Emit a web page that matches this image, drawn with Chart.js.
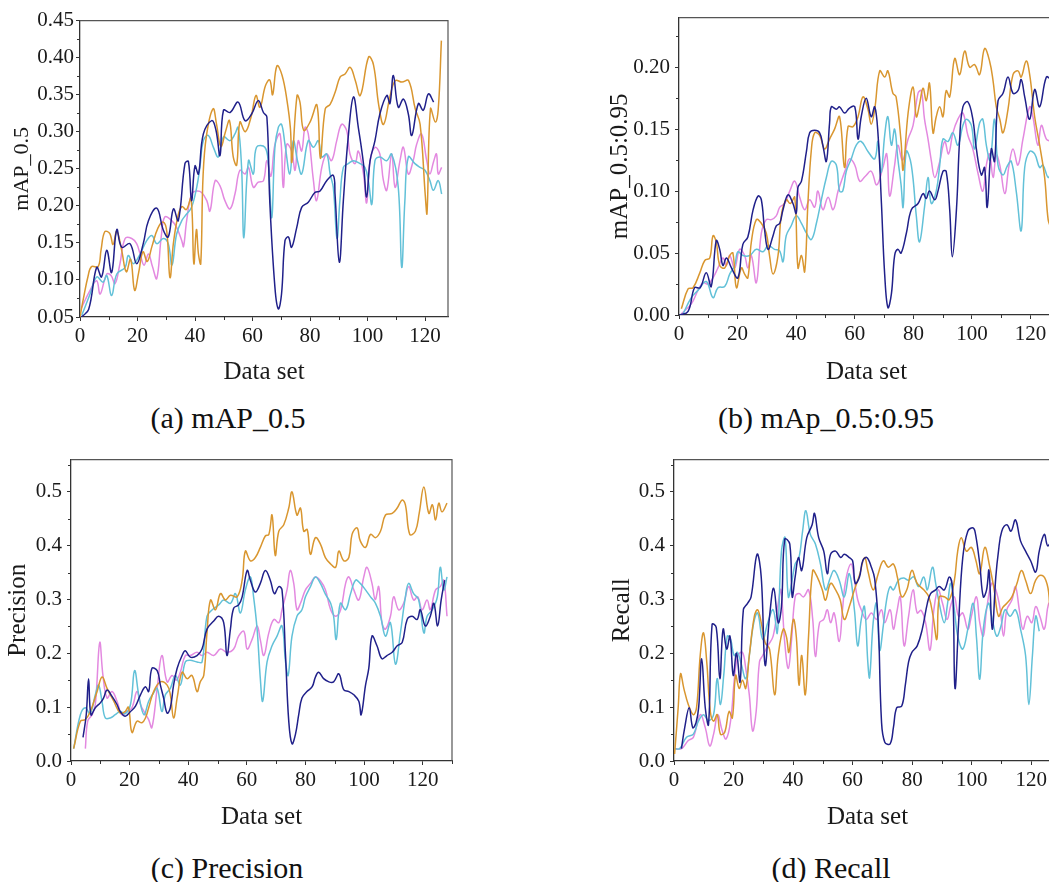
<!DOCTYPE html>
<html>
<head>
<meta charset="utf-8">
<script src="https://cdn.jsdelivr.net/npm/chart.js@4.4.0/dist/chart.umd.min.js"></script>
<style>
  html, body { margin: 0; padding: 0; background: #fff; overflow: hidden; width: 1049px; height: 882px; }
  .panel { position: absolute; }
  .caption {
    position: absolute; transform: translate(-50%, -50%); white-space: nowrap;
    font-family: "Liberation Serif", "Times New Roman", serif; font-size: 30px; color: #111;
  }
</style>
</head>
<body>
<div class="caption" style="left:228px;top:418px">(a) mAP_0.5</div>
<div class="caption" style="left:826px;top:418px">(b) mAp_0.5:0.95</div>
<div class="caption" style="left:227px;top:868px">(c) Precision</div>
<div class="caption" style="left:831px;top:868px">(d) Recall</div>
<script>
(function () {
  "use strict";

  // ---- (a) mAP_0.5 : [data set, value] ----
  const aNavy = [[0.5,0.05],[3,0.06],[5.8,0.117],[7.5,0.104],[9.3,0.14],[11,0.11],[12.8,0.168],[14.5,0.144],[17.4,0.149],[19.7,0.122],[22,0.149],[23.8,0.18],[26.7,0.197],[29,0.167],[30.7,0.158],[32.5,0.196],[34.2,0.18],[36.5,0.257],[37.7,0.26],[38.8,0.207],[40,0.254],[41.2,0.243],[42.9,0.297],[45.8,0.315],[47.3,0.302],[48.7,0.268],[49.9,0.329],[52.2,0.326],[55,0.34],[57.4,0.315],[59.7,0.324],[62,0.342],[63.8,0.326],[65,0.32],[66,0.207],[67.8,0.09],[69,0.061],[70.1,0.081],[71.3,0.153],[72.5,0.158],[73.6,0.144],[75.4,0.171],[77.1,0.198],[79.4,0.205],[81.7,0.218],[83.5,0.22],[85.8,0.234],[88.1,0.241],[88.7,0.216],[90.2,0.124],[91.6,0.207],[93.3,0.293],[95.1,0.347],[96.8,0.306],[98.6,0.257],[99.7,0.212],[100.9,0.261],[102.6,0.288],[104.3,0.324],[106.7,0.349],[107.8,0.338],[109,0.376],[110.7,0.333],[112.5,0.344],[114.2,0.324],[115.4,0.295],[117.7,0.338],[119.4,0.329],[121.2,0.351],[123,0.34]];
  const aOrange = [[0,0.05],[1.2,0.075],[2.8,0.105],[4,0.118],[6.3,0.118],[7.3,0.14],[8.6,0.165],[10.3,0.163],[11.5,0.148],[12.8,0.166],[14.5,0.14],[16.1,0.111],[17.6,0.128],[19,0.086],[20.4,0.11],[21.9,0.138],[23.4,0.125],[25,0.145],[27.1,0.17],[29,0.178],[30.2,0.165],[31.3,0.103],[32.5,0.15],[34,0.185],[35.4,0.199],[37,0.195],[38.6,0.21],[39.6,0.122],[40.5,0.168],[41.2,0.135],[42,0.122],[42.8,0.24],[44,0.295],[46.3,0.331],[47.5,0.31],[49,0.28],[50.6,0.3],[52,0.315],[53.3,0.266],[54.5,0.255],[55.6,0.313],[57.5,0.3],[59.5,0.32],[61.2,0.349],[62.6,0.333],[64.5,0.362],[66,0.37],[67,0.35],[68.5,0.389],[70.3,0.376],[72,0.342],[73.2,0.304],[73.7,0.259],[75.5,0.349],[76.5,0.34],[77.8,0.302],[80,0.313],[82.4,0.336],[83.6,0.264],[85.3,0.331],[87,0.337],[88.8,0.354],[90.5,0.374],[92.2,0.378],[94,0.387],[95.7,0.37],[97.5,0.349],[100.4,0.401],[102.1,0.39],[103.9,0.336],[105.6,0.31],[107.9,0.349],[109.7,0.369],[112,0.367],[114.3,0.369],[116.6,0.331],[118.3,0.31],[120.1,0.214],[120.7,0.19],[121.9,0.331],[123.6,0.313],[124.6,0.33],[125.7,0.423]];
  const aCyan = [[0.6,0.052],[3.5,0.081],[5.8,0.104],[8,0.097],[9.3,0.106],[11,0.079],[12.8,0.108],[15.7,0.117],[16.8,0.133],[18.6,0.122],[20.9,0.135],[23.2,0.153],[25,0.16],[26.7,0.149],[29,0.156],[30.7,0.149],[32,0.12],[33.6,0.162],[35.4,0.18],[37.1,0.189],[38.8,0.198],[40.6,0.225],[41.7,0.252],[42.9,0.288],[44.6,0.295],[46.4,0.279],[48.1,0.266],[49.9,0.293],[52.2,0.288],[53.9,0.297],[55,0.306],[56.2,0.252],[57,0.157],[58.6,0.261],[60.3,0.243],[61.4,0.279],[64.3,0.279],[65.5,0.257],[66.7,0.184],[67.8,0.279],[69,0.306],[70.1,0.31],[71.3,0.283],[73,0.243],[74.2,0.288],[75.7,0.26],[77.1,0.243],[79.4,0.288],[81.2,0.279],[82.9,0.288],[84.1,0.266],[85.8,0.27],[87,0.243],[88.1,0.225],[89.4,0.156],[90.4,0.207],[91.6,0.252],[93.3,0.257],[95.1,0.261],[97.4,0.257],[99.1,0.252],[100.3,0.234],[101.5,0.202],[102.6,0.261],[104.3,0.266],[106.7,0.261],[108.4,0.27],[110.7,0.225],[111.9,0.117],[113,0.207],[114.2,0.266],[116.5,0.257],[118.3,0.252],[120,0.248],[121.7,0.234],[122.9,0.221],[124.6,0.234],[125.8,0.216]];
  const aViolet = [[0.6,0.063],[3.5,0.086],[5.8,0.099],[7,0.081],[9.3,0.108],[10.8,0.106],[12.2,0.095],[13.9,0.122],[15.7,0.156],[18,0.156],[19.7,0.149],[20.9,0.135],[22.3,0.12],[23.8,0.135],[25.2,0.118],[26.7,0.102],[28.3,0.16],[29.5,0.185],[31.9,0.18],[33.6,0.171],[35.4,0.153],[36,0.145],[37.1,0.18],[38.8,0.216],[40.6,0.22],[42.3,0.218],[44.1,0.207],[45.2,0.193],[47,0.234],[48.7,0.227],[50.4,0.207],[52.2,0.196],[53.9,0.216],[55.6,0.248],[57.4,0.243],[58.6,0.252],[60.3,0.225],[62,0.232],[63.8,0.234],[65,0.261],[66.4,0.24],[67.8,0.283],[69.6,0.297],[70.7,0.225],[71.9,0.283],[73.6,0.274],[74.8,0.248],[75.9,0.288],[77.1,0.274],[78.3,0.306],[79.4,0.297],[81.2,0.234],[82.3,0.207],[84.1,0.252],[85.8,0.27],[87.5,0.261],[89.3,0.288],[91,0.31],[92.8,0.301],[93.9,0.27],[95.7,0.257],[96.8,0.274],[98.6,0.243],[99.7,0.204],[100.9,0.261],[102.6,0.279],[104.3,0.27],[105.5,0.235],[106.7,0.221],[108.4,0.27],[109.6,0.225],[111.3,0.261],[112.5,0.279],[114.2,0.243],[115.9,0.261],[117.1,0.283],[118.8,0.297],[120.6,0.261],[121.7,0.243],[123,0.26],[124,0.27],[124.6,0.243],[125.8,0.252]];

  // ---- (b) mAP_0.5:0.95 ----
  const bNavy = [[0.2,0],[3.1,0.003],[5.3,0.022],[7.2,0.022],[9.3,0.034],[11,0.023],[12.7,0.06],[13.9,0.053],[15,0.04],[16.2,0.046],[17.9,0.038],[20.1,0.03],[21.8,0.057],[23.5,0.063],[25.3,0.085],[27,0.096],[28.1,0.093],[29.2,0.069],[30.4,0.053],[32.1,0.064],[33.2,0.072],[34.4,0.074],[35.5,0.085],[37.2,0.097],[38.9,0.09],[40,0.082],[40.6,0.103],[41.8,0.108],[43.5,0.132],[44.6,0.147],[46.3,0.149],[48,0.147],[49.1,0.137],[50.3,0.124],[51.4,0.155],[52,0.168],[53.7,0.166],[54.8,0.168],[56.5,0.163],[58.2,0.167],[60,0.168],[61.1,0.142],[62.2,0.16],[63.9,0.175],[65.6,0.16],[66.8,0.168],[67.9,0.147],[69.1,0.09],[70.2,0.033],[71.3,0.006],[72.5,0.017],[73.6,0.048],[74.7,0.053],[75.8,0.05],[77.6,0.066],[79.3,0.085],[81.6,0.09],[83.3,0.098],[84.4,0.094],[85.5,0.1],[87.3,0.093],[88.4,0.1],[90.1,0.116],[91.2,0.116],[92.4,0.085],[93.3,0.047],[94.7,0.085],[95.8,0.142],[96.9,0.168],[98.6,0.172],[100.3,0.158],[101.5,0.134],[103.2,0.113],[104.3,0.119],[105.2,0.087],[106.6,0.134],[107.7,0.124],[108.9,0.173],[110.6,0.179],[112.3,0.192],[114,0.179],[115.7,0.181],[116.8,0.19],[118,0.176],[119.7,0.158],[121.4,0.182],[123.1,0.168],[125.4,0.192],[127,0.19]];
  const bOrange = [[0.8,0.005],[3.1,0.021],[4.8,0.022],[7.1,0.034],[8.8,0.044],[10.5,0.046],[11.6,0.064],[12.7,0.059],[13.9,0.04],[15.6,0.038],[17.3,0.048],[18.4,0.05],[19.6,0.022],[21.3,0.038],[22.4,0.033],[23.5,0.03],[24.7,0.059],[26.4,0.077],[28.1,0.074],[29.8,0.066],[30.9,0.048],[32.1,0.033],[33.8,0.048],[34.9,0.08],[36.6,0.093],[38,0.09],[39.5,0.095],[40.6,0.038],[41.8,0.048],[42.9,0.035],[44,0.09],[45.2,0.134],[46.3,0.147],[48,0.145],[49.7,0.134],[51.4,0.142],[53.1,0.15],[54.8,0.16],[56.5,0.119],[57.7,0.152],[59.4,0.152],[61.1,0.16],[62.8,0.176],[64.5,0.166],[65.6,0.154],[66.8,0.166],[68.5,0.197],[70.2,0.192],[71.3,0.197],[73,0.179],[74.1,0.176],[75.8,0.14],[76.5,0.117],[78.2,0.163],[79.9,0.184],[81,0.16],[82.1,0.17],[83.3,0.183],[84.4,0.173],[85.5,0.187],[86.7,0.147],[87.8,0.16],[89,0.168],[90.1,0.16],[91.2,0.181],[92.4,0.176],[94.1,0.207],[95.8,0.194],[97.5,0.213],[99.2,0.2],[100.9,0.202],[102.6,0.194],[104.3,0.215],[106,0.205],[107.2,0.189],[108.3,0.168],[109.5,0.158],[110.6,0.147],[112.3,0.166],[114,0.194],[115.7,0.197],[116.8,0.192],[118.5,0.205],[119.7,0.194],[121.4,0.16],[123.1,0.137],[124.8,0.111],[126,0.077],[127,0.07]];
  const bCyan = [[1.4,0.001],[4.2,0.014],[6.5,0.02],[9.3,0.027],[11.6,0.014],[13.3,0.022],[15.6,0.023],[17.3,0.033],[19,0.04],[20.1,0.051],[21.8,0.048],[24.1,0.048],[26.4,0.053],[28.7,0.051],[30.4,0.056],[32.6,0.053],[34.3,0.052],[35.5,0.043],[36.6,0.064],[38.3,0.072],[40,0.08],[41.8,0.074],[43.5,0.066],[45.2,0.061],[46.9,0.074],[48.6,0.093],[50.3,0.111],[52,0.124],[53.7,0.121],[54.8,0.1],[55.9,0.1],[57.1,0.116],[58.8,0.126],[60.5,0.137],[62.2,0.14],[64.5,0.132],[66.8,0.126],[67.9,0.14],[69,0.115],[70.2,0.145],[71.3,0.16],[72.5,0.137],[73.6,0.15],[74.7,0.126],[75.8,0.105],[76.5,0.087],[77.6,0.132],[79.3,0.121],[81,0.08],[82.1,0.059],[83.8,0.087],[85,0.111],[86.1,0.09],[87.8,0.1],[89,0.121],[90.1,0.142],[91.8,0.14],[93.5,0.147],[95.2,0.137],[96.9,0.153],[98.1,0.158],[99.8,0.153],[100.9,0.134],[102.6,0.155],[103.7,0.158],[104.9,0.137],[106.2,0.125],[107.7,0.158],[108.9,0.121],[110.6,0.113],[112,0.12],[113.4,0.124],[115.1,0.1],[116.8,0.068],[118,0.119],[119.7,0.132],[121.4,0.13],[123.1,0.119],[124.2,0.121],[126,0.111],[127,0.115]];
  const bViolet = [[0.8,0.001],[4.2,0.009],[6.5,0.02],[8.2,0.026],[9.9,0.025],[11.6,0.03],[13.3,0.038],[15,0.046],[16.2,0.04],[17.3,0.048],[19,0.038],[20.7,0.053],[22.4,0.048],[23.5,0.038],[24.7,0.048],[26.4,0.026],[28.1,0.066],[29.8,0.077],[31.5,0.077],[33.2,0.08],[34.4,0.087],[36.1,0.09],[37.8,0.1],[39.5,0.108],[41.2,0.095],[42.9,0.085],[44.6,0.093],[46.3,0.087],[47.4,0.1],[49.1,0.085],[50.9,0.095],[52.6,0.085],[54.3,0.1],[55.7,0.11],[57.1,0.119],[58.2,0.126],[60,0.121],[61.7,0.108],[63.6,0.112],[65.6,0.116],[67.5,0.105],[69.6,0.119],[70.9,0.13],[71.9,0.096],[73.6,0.121],[74.7,0.137],[76.3,0.125],[78.2,0.142],[79.9,0.153],[81.6,0.179],[82.7,0.181],[83.8,0.158],[85,0.142],[86.1,0.125],[87.3,0.111],[89,0.124],[90.7,0.14],[92,0.13],[93.5,0.147],[95.2,0.158],[96.9,0.163],[98.6,0.145],[100.3,0.134],[102,0.115],[103.7,0.1],[104.9,0.121],[106,0.13],[107.2,0.111],[108.3,0.129],[109.5,0.121],[111.2,0.098],[112.6,0.12],[114,0.134],[115.7,0.121],[117.4,0.142],[119.7,0.168],[120.8,0.16],[122.5,0.137],[123.7,0.153],[125.4,0.142],[127,0.14]];

  // ---- (c) Precision ----
  const cNavy = [[4.1,0.044],[5.2,0.086],[6,0.153],[6.8,0.086],[8.3,0.099],[10,0.108],[11.1,0.117],[12.3,0.132],[14,0.12],[15.7,0.105],[16.8,0.092],[18.5,0.083],[20.3,0.092],[22,0.102],[23.7,0.123],[25.4,0.138],[26.5,0.129],[27.6,0.172],[29.4,0.168],[30.5,0.141],[31.6,0.117],[32.8,0.089],[33.9,0.099],[35,0.141],[36.2,0.172],[37.9,0.196],[39,0.205],[40.7,0.193],[43,0.196],[44.7,0.208],[46.4,0.245],[48.7,0.26],[50.4,0.269],[52.1,0.257],[53.2,0.196],[54.4,0.245],[55.5,0.284],[57.2,0.29],[58.4,0.305],[60.1,0.354],[61.2,0.336],[62.9,0.314],[64.6,0.33],[66.3,0.354],[68,0.336],[69.4,0.311],[70.9,0.324],[72,0.318],[73.2,0.196],[74.3,0.074],[75.4,0.032],[76.6,0.05],[77.7,0.086],[78.8,0.117],[80.5,0.129],[82.3,0.138],[83.4,0.156],[84.5,0.165],[86.2,0.153],[88,0.147],[89.6,0.147],[91.4,0.162],[93.1,0.132],[94.8,0.129],[96.5,0.123],[98.2,0.111],[99,0.086],[100.5,0.141],[101.6,0.172],[102.7,0.232],[104.4,0.214],[106.1,0.19],[107.8,0.196],[109.6,0.202],[111.3,0.214],[113,0.22],[114.7,0.263],[116.4,0.269],[118.1,0.263],[119.2,0.281],[120.9,0.251],[122.6,0.269],[123.8,0.293],[125.1,0.251],[126.3,0.299],[127.5,0.336]];
  const cOrange = [[0.9,0.023],[3.2,0.074],[4.9,0.077],[6.6,0.092],[8.9,0.129],[10.6,0.156],[12.3,0.135],[14.6,0.111],[16.8,0.089],[18.5,0.092],[19.6,0.1],[20.8,0.053],[22.5,0.074],[24.2,0.071],[25.4,0.08],[26.5,0.099],[28.2,0.129],[30.5,0.147],[32.8,0.141],[33.9,0.123],[35,0.08],[36.3,0.12],[37.9,0.165],[39.6,0.153],[41.3,0.159],[43,0.129],[44.1,0.147],[45.3,0.159],[46.4,0.238],[47.6,0.299],[49.3,0.281],[51,0.311],[52.7,0.299],[54.4,0.308],[56.7,0.305],[58.4,0.336],[59.5,0.39],[61.2,0.372],[62.9,0.378],[64.6,0.397],[66.3,0.418],[67.5,0.421],[68.6,0.457],[69.7,0.382],[70.9,0.427],[72.6,0.439],[74.3,0.47],[75.4,0.5],[77.1,0.457],[78.3,0.47],[79.4,0.427],[80.6,0.43],[81.7,0.384],[83.4,0.415],[85.1,0.403],[86.8,0.378],[88.6,0.366],[90.3,0.36],[91.4,0.39],[93.1,0.372],[94.8,0.378],[95.9,0.421],[97.6,0.433],[98.7,0.409],[100.5,0.397],[102.2,0.421],[103.9,0.415],[105.6,0.427],[107.3,0.457],[109.6,0.46],[111.3,0.47],[113,0.485],[114.1,0.476],[115.6,0.421],[117.5,0.427],[118.8,0.46],[120.4,0.509],[122.1,0.46],[123.3,0.476],[124.4,0.448],[125.5,0.479],[126.6,0.463],[128.3,0.479]];
  const cCyan = [[0.9,0.023],[3.2,0.086],[4.9,0.099],[6.5,0.088],[8.3,0.123],[9.4,0.141],[10.6,0.11],[11.7,0.08],[13.4,0.08],[15.1,0.086],[16.8,0.092],[18.5,0.088],[20.3,0.105],[21.7,0.168],[23.2,0.12],[24.9,0.086],[26.5,0.111],[28,0.125],[29.4,0.135],[31,0.092],[32.2,0.123],[33.9,0.135],[35.6,0.159],[37.3,0.141],[39,0.184],[40.7,0.187],[43,0.184],[44.7,0.184],[46.4,0.269],[48.2,0.281],[50.4,0.29],[52.1,0.299],[54.4,0.293],[56.1,0.311],[57.8,0.275],[59.5,0.318],[61.2,0.342],[62.3,0.305],[63.5,0.245],[64.6,0.153],[65.4,0.111],[66.9,0.184],[68.6,0.214],[70.3,0.232],[72,0.251],[73.2,0.184],[74.1,0.159],[75.4,0.232],[77.1,0.269],[78.8,0.281],[80,0.305],[81.7,0.324],[83.4,0.342],[85.1,0.33],[86.8,0.31],[88.6,0.293],[89.6,0.269],[90.5,0.226],[91.9,0.293],[93.7,0.281],[95.4,0.311],[97.1,0.336],[98.7,0.33],[100.5,0.318],[102.2,0.305],[103.9,0.293],[105.6,0.269],[107.3,0.232],[109,0.257],[110.7,0.18],[112.4,0.238],[114.1,0.305],[115.2,0.33],[116.9,0.311],[118.6,0.3],[120.4,0.238],[121.5,0.269],[123.3,0.281],[125,0.305],[126,0.36],[127.2,0.318],[128.3,0.342]];
  const cViolet = [[4.9,0.023],[5.7,0.074],[7.2,0.086],[8.3,0.105],[9.8,0.22],[10.9,0.159],[12.3,0.117],[14,0.129],[15.7,0.111],[17.4,0.086],[19.1,0.092],[20.8,0.099],[22.5,0.129],[23.7,0.105],[24.9,0.092],[26.5,0.077],[27.6,0.062],[29.4,0.135],[31,0.196],[32.8,0.147],[34.5,0.159],[35.9,0.15],[37.3,0.165],[39,0.196],[40.7,0.196],[43,0.202],[44.7,0.196],[46.4,0.202],[48.7,0.196],[51,0.208],[53.2,0.202],[55.5,0.208],[57.2,0.232],[59,0.241],[60.1,0.208],[61.8,0.226],[63.5,0.251],[64.6,0.225],[65.8,0.196],[67.5,0.238],[69.2,0.263],[70.9,0.257],[72,0.281],[73.7,0.318],[74.8,0.354],[76,0.33],[77.1,0.281],[78.3,0.293],[80,0.318],[81.7,0.33],[83.4,0.342],[85.1,0.335],[86.8,0.318],[88.6,0.281],[90.3,0.269],[92,0.281],[93.7,0.33],[94.8,0.342],[96.5,0.318],[98.2,0.299],[99.9,0.342],[101,0.36],[102.7,0.33],[103.8,0.3],[105,0.324],[106.1,0.257],[107.3,0.245],[109,0.269],[110.1,0.305],[111.8,0.281],[113.5,0.293],[115.2,0.324],[116.9,0.299],[118.3,0.305],[119.8,0.281],[121.5,0.299],[122.6,0.281],[124.4,0.318],[126,0.324],[127.2,0.336],[128.3,0.269]];

  // ---- (d) Recall ----
  const dNavy = [[2.5,0.023],[3.6,0.062],[5.1,0.099],[6.3,0.062],[7.4,0.071],[8.3,0.1],[9.3,0.19],[10.5,0.099],[11.6,0.068],[12.8,0.254],[14.2,0.248],[15.4,0.153],[16.5,0.245],[17.7,0.208],[18.8,0.232],[19.9,0.159],[21,0.2],[22.2,0.147],[23.3,0.281],[24.7,0.293],[25.9,0.305],[27.9,0.384],[29.3,0.342],[30.6,0.178],[32.1,0.269],[33.5,0.321],[35,0.257],[36.1,0.287],[37.2,0.412],[38.9,0.403],[39.7,0.305],[40.7,0.342],[41.8,0.378],[42.9,0.354],[44.6,0.415],[46.4,0.439],[47.2,0.46],[48.6,0.415],[50.3,0.39],[51.5,0.348],[52.6,0.384],[54.3,0.39],[56,0.378],[57.2,0.384],[58.9,0.378],[60,0.372],[60.9,0.33],[62.3,0.342],[63.4,0.372],[64.8,0.378],[66.3,0.36],[67.4,0.339],[68.6,0.257],[69.7,0.074],[70.8,0.035],[72.6,0.032],[73.7,0.062],[74.8,0.099],[76.5,0.102],[77.7,0.141],[78.8,0.184],[79.9,0.202],[81.7,0.214],[83.4,0.245],[85.1,0.293],[86.2,0.311],[87.9,0.318],[89.1,0.324],[90.8,0.318],[92.5,0.342],[93.6,0.318],[94.4,0.135],[95.6,0.257],[97,0.378],[98.7,0.427],[100.5,0.433],[101.3,0.421],[102.7,0.366],[103.9,0.305],[105,0.318],[105.8,0.354],[106.9,0.245],[108.1,0.342],[109,0.39],[110.1,0.427],[111.8,0.439],[113.2,0.427],[114.7,0.448],[116.4,0.409],[118.1,0.39],[119.8,0.372],[121.5,0.351],[122.7,0.39],[124.4,0.421],[125.5,0.4],[126.7,0.409],[127.8,0.43]];
  const dOrange = [[0.2,0.013],[1.4,0.099],[2.2,0.162],[3.3,0.135],[4.8,0.105],[6.5,0.086],[7.6,0.1],[8.8,0.196],[9.9,0.238],[11,0.184],[12.2,0.092],[13.3,0.074],[14.5,0.086],[15.6,0.05],[17,0.053],[18.5,0.092],[19.6,0.08],[20.7,0.159],[21.9,0.135],[23,0.15],[24.1,0.135],[25.3,0.196],[27,0.269],[28.1,0.281],[29.3,0.257],[30.6,0.22],[32.1,0.208],[33.8,0.123],[35,0.196],[36.7,0.245],[37.8,0.23],[38.6,0.202],[40.1,0.263],[41.1,0.23],[42,0.141],[42.9,0.196],[44.1,0.123],[45.2,0.232],[46.6,0.354],[48.1,0.342],[49.8,0.318],[50.9,0.299],[52.6,0.33],[54.3,0.318],[55.8,0.3],[57.2,0.263],[58.9,0.287],[60.6,0.318],[62.3,0.345],[64,0.378],[65.1,0.354],[66.9,0.318],[68.6,0.348],[70.3,0.372],[72,0.36],[73.7,0.366],[75.1,0.34],[76.5,0.305],[78.2,0.318],[79.9,0.354],[81.7,0.33],[83.9,0.318],[85.6,0.305],[87,0.27],[88.3,0.226],[89.1,0.305],[90.8,0.305],[92.5,0.3],[94.2,0.336],[95.3,0.39],[96.5,0.415],[98.2,0.39],[99.9,0.397],[101.3,0.375],[102.7,0.348],[104.4,0.397],[106.1,0.36],[107.5,0.32],[109,0.269],[110.4,0.285],[111.8,0.293],[113.5,0.305],[115.2,0.33],[116.7,0.354],[118.1,0.336],[119.8,0.311],[121.5,0.336],[123.2,0.345],[124.9,0.336],[126,0.305],[127.2,0.147],[128,0.15]];
  const dCyan = [[0.2,0.023],[1.9,0.023],[4.2,0.044],[6.5,0.05],[8.2,0.074],[9.9,0.086],[11.6,0.075],[13.3,0.086],[14.5,0.153],[15.6,0.105],[16.7,0.159],[17.9,0.232],[19,0.226],[20.2,0.196],[21.3,0.202],[22.4,0.184],[24.1,0.153],[25.3,0.196],[26.8,0.257],[28.1,0.275],[29.8,0.226],[31.5,0.257],[33.3,0.281],[34.7,0.238],[36.1,0.39],[37.3,0.415],[38.4,0.305],[39.5,0.33],[40.7,0.366],[42,0.378],[43.2,0.427],[44.3,0.465],[45.8,0.421],[47.5,0.403],[49.2,0.366],[50.9,0.318],[52.6,0.342],[53.8,0.354],[55.5,0.336],[57.2,0.305],[58.9,0.348],[60.6,0.281],[61.7,0.214],[62.9,0.263],[64,0.287],[65.1,0.184],[65.7,0.155],[66.9,0.257],[68,0.293],[69.1,0.206],[70.3,0.251],[71.4,0.299],[72.6,0.324],[73.7,0.318],[75.4,0.336],[77.1,0.34],[78.8,0.336],[80.5,0.342],[82.2,0.324],[83.9,0.342],[85.1,0.318],[86.8,0.36],[87.9,0.33],[89.1,0.293],[90.8,0.257],[91.9,0.293],[93,0.33],[94.2,0.281],[95.3,0.232],[97,0.208],[98.7,0.245],[100.5,0.293],[101.6,0.23],[102.7,0.152],[103.9,0.245],[105.6,0.293],[106.7,0.269],[108.4,0.232],[109.8,0.25],[111.2,0.281],[112.9,0.269],[114.7,0.281],[116.4,0.245],[118.1,0.196],[119.2,0.105],[120.4,0.196],[121.5,0.269],[122.7,0.241]];
  const dViolet = [[0.2,0.023],[2.5,0.023],[4.8,0.038],[6.5,0.044],[8.8,0.086],[10.5,0.062],[12,0.028],[13.3,0.05],[14.7,0.086],[16.2,0.056],[17.5,0.041],[19,0.074],[20.4,0.159],[21.5,0.196],[23,0.202],[24.1,0.172],[25.3,0.123],[26.4,0.056],[27.6,0.092],[28.7,0.184],[29.8,0.196],[31.5,0.214],[33.3,0.232],[35,0.293],[35.9,0.318],[37.2,0.22],[38.4,0.172],[39.5,0.226],[40.7,0.305],[42,0.311],[43.5,0.305],[45.2,0.318],[46.6,0.263],[47.5,0.194],[48.9,0.257],[50.3,0.263],[51.5,0.281],[52.6,0.257],[53.8,0.275],[55.5,0.222],[56.6,0.281],[57.7,0.336],[59.5,0.366],[60.6,0.336],[61.7,0.3],[62.9,0.281],[64.6,0.263],[66.3,0.275],[68,0.263],[69.7,0.281],[70.8,0.257],[72.6,0.281],[73.7,0.245],[74.8,0.275],[76,0.305],[77.3,0.214],[78.8,0.269],[80.3,0.318],[81.7,0.275],[83,0.28],[84.5,0.257],[86,0.206],[87.3,0.281],[88.7,0.318],[90.2,0.293],[91.7,0.263],[93,0.29],[94.2,0.305],[95.6,0.269],[97,0.275],[98.7,0.245],[99.9,0.269],[101.6,0.305],[102.7,0.257],[103.9,0.232],[105,0.281],[106.7,0.33],[108.1,0.318],[109.6,0.281],[110.7,0.232],[111.8,0.281],[113.5,0.299],[114.7,0.324],[116,0.281],[117.2,0.245],[118.7,0.269],[120.2,0.257],[121.5,0.287],[122.9,0.269],[124.4,0.245],[125.9,0.293],[127.2,0.287]];

  const COLORS = { navy: "#20208a", orange: "#d9962f", cyan: "#62c1d8", violet: "#e389e0" };
  const FONT = '"Liberation Serif", "Times New Roman", serif';
  const INK = "#1a1a1a";

  Chart.defaults.font.family = FONT;
  Chart.defaults.color = INK;

  const toPts = arr => arr.map(([x, y]) => ({ x, y }));

  // top + right edges of the box
  const framePlugin = {
    id: "frame",
    afterDraw(chart, args, opts) {
      const { ctx, chartArea: a } = chart;
      ctx.save();
      ctx.strokeStyle = opts.color || "#666";
      ctx.lineWidth = 1.2;
      ctx.beginPath();
      ctx.moveTo(a.left, a.top);
      ctx.lineTo(a.right, a.top);
      ctx.lineTo(a.right, a.bottom);
      ctx.stroke();
      ctx.restore();
    }
  };

  // small ticks between the labelled ones
  const minorPlugin = {
    id: "minorTicks",
    afterDraw(chart, args, opts) {
      const { ctx } = chart;
      ctx.save();
      ctx.strokeStyle = "#333";
      ctx.lineWidth = 1;
      ctx.beginPath();
      ["x", "y"].forEach(id => {
        const s = chart.scales[id];
        const step = opts[id], major = opts[id + "Major"];
        for (let i = 0; ; i++) {
          const v = Math.round((s.min + i * step) * 1e6) / 1e6;
          if (v > s.max + 1e-9) break;
          const r = v / major;
          if (Math.abs(r - Math.round(r)) < 1e-6) continue;
          const p = Math.round(s.getPixelForValue(v)) + 0.5;
          if (id === "x") { ctx.moveTo(p, s.top); ctx.lineTo(p, s.top + 3); }
          else { ctx.moveTo(s.right, p); ctx.lineTo(s.right - 3, p); }
        }
      });
      ctx.stroke();
      ctx.restore();
    }
  };

  function makePanel(p) {
    const plotW = p.plot.r - p.plot.l, plotH = p.plot.b - p.plot.t;
    const w = Math.round(p.yAxisW + plotW + p.padRight);
    const h = Math.round(p.padTop + plotH + p.xAxisH);
    const box = document.createElement("div");
    box.className = "panel";
    box.style.left = (p.plot.l - p.yAxisW) + "px";
    box.style.top = (p.plot.t - p.padTop) + "px";
    box.style.width = w + "px";
    box.style.height = h + "px";
    const cv = document.createElement("canvas");
    cv.width = w; cv.height = h;
    box.appendChild(cv);
    document.body.appendChild(box);

    const line = (data, color) => ({
      data: toPts(data), borderColor: color, borderWidth: 1.5,
      pointRadius: 0, tension: 0.4, fill: false
    });

    return new Chart(cv, {
      type: "line",
      data: {
        datasets: [
          line(p.series.navy, COLORS.navy),
          line(p.series.orange, COLORS.orange),
          line(p.series.cyan, COLORS.cyan),
          line(p.series.violet, COLORS.violet)
        ]
      },
      options: {
        responsive: false,
        animation: false,
        events: [],
        layout: { padding: { top: p.padTop, right: p.padRight, left: 0, bottom: 0 } },
        plugins: {
          legend: { display: false },
          tooltip: { enabled: false },
          frame: { color: "#555" },
          minorTicks: { x: 10, xMajor: 20, y: p.y.minor, yMajor: p.y.step }
        },
        scales: {
          x: {
            type: "linear", min: 0, max: p.xMax,
            afterFit: s => { s.height = p.xAxisH; },
            border: { color: "#333", width: 1.3 },
            grid: { drawOnChartArea: false, drawTicks: true, tickLength: 4, tickColor: "#333" },
            ticks: { stepSize: 20, includeBounds: false, autoSkip: false, maxRotation: 0,
                     padding: 3, color: INK, font: { size: 21 } },
            title: { display: true, text: "Data set", color: INK,
                     font: { size: 25 }, padding: { top: 0, bottom: 0 } }
          },
          y: {
            type: "linear", min: p.y.min, max: p.y.max,
            afterFit: s => { s.width = p.yAxisW; },
            border: { color: "#333", width: 1.3 },
            grid: { drawOnChartArea: false, drawTicks: true, tickLength: 4, tickColor: "#333" },
            ticks: { stepSize: p.y.step, includeBounds: false, autoSkip: false,
                     padding: p.tickPadY, color: INK, font: { size: 21 },
                     callback: v => Number(v).toFixed(p.y.dec) },
            title: { display: true, text: p.yTitle, color: INK,
                     font: { size: p.yTitleSize }, padding: { top: p.yTitlePad, bottom: 0 } }
          }
        }
      },
      plugins: [framePlugin, minorPlugin]
    });
  }

  makePanel({
    plot: { l: 80, t: 20, r: 448, b: 317 }, xMax: 128,
    y: { min: 0.05, max: 0.45, step: 0.05, minor: 0.025, dec: 2 },
    yAxisW: 80, xAxisH: 70, padTop: 14, padRight: 14, tickPadY: 2,
    yTitle: "mAP_0.5", yTitleSize: 22, yTitlePad: 9,
    series: { navy: aNavy, orange: aOrange, cyan: aCyan, violet: aViolet }
  });

  makePanel({
    plot: { l: 679, t: 8, r: 1054, b: 315 }, xMax: 128,
    y: { min: 0, max: 0.24, step: 0.05, minor: 0.025, dec: 2 },
    yAxisW: 80, xAxisH: 72, padTop: 8, padRight: 14, tickPadY: 5,
    yTitle: "mAP_0.5:0.95", yTitleSize: 25, yTitlePad: 6,
    series: { navy: bNavy, orange: bOrange, cyan: bCyan, violet: bViolet }
  });

  makePanel({
    plot: { l: 71, t: 454, r: 452, b: 761 }, xMax: 130,
    y: { min: 0, max: 0.56, step: 0.1, minor: 0.05, dec: 1 },
    yAxisW: 71, xAxisH: 71, padTop: 12, padRight: 14, tickPadY: 5,
    yTitle: "Precision", yTitleSize: 25, yTitlePad: 3,
    series: { navy: cNavy, orange: cOrange, cyan: cCyan, violet: cViolet }
  });

  makePanel({
    plot: { l: 674, t: 454, r: 1061, b: 761 }, xMax: 130,
    y: { min: 0, max: 0.56, step: 0.1, minor: 0.05, dec: 1 },
    yAxisW: 80, xAxisH: 71, padTop: 12, padRight: 14, tickPadY: 5,
    yTitle: "Recall", yTitleSize: 25, yTitlePad: 13,
    series: { navy: dNavy, orange: dOrange, cyan: dCyan, violet: dViolet }
  });
})();
</script>
</body>
</html>
